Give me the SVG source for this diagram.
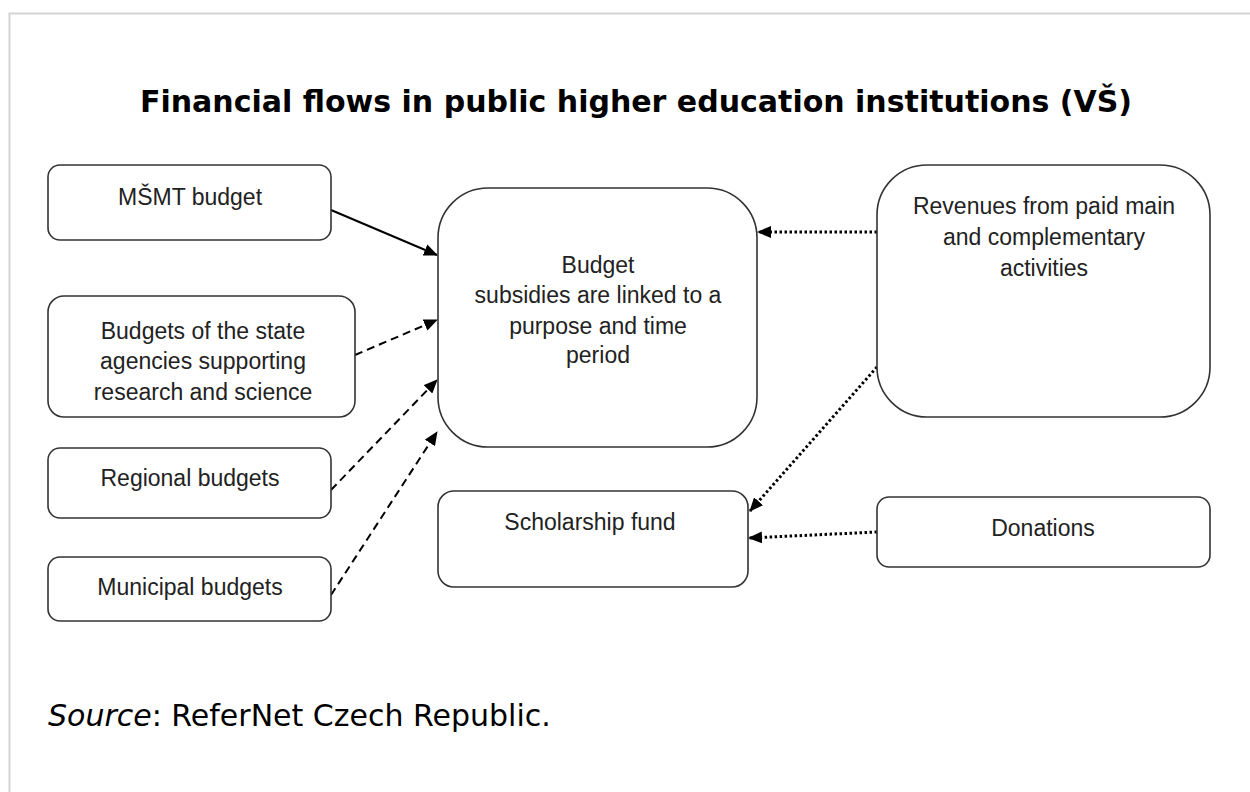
<svg xmlns="http://www.w3.org/2000/svg" width="1250" height="792" viewBox="0 0 1250 792">
<style>
.box{fill:#fff;stroke:#333;stroke-width:1.6}
.t{font-family:"Liberation Sans","Noto Sans",sans-serif;font-size:23px;fill:#222;text-anchor:middle}
.c{fill:none;stroke:#000;stroke-width:2}
.dash{stroke-dasharray:8 5}
.dot{stroke-dasharray:2.5 2.5;stroke-width:3}
</style>
<defs>
<marker id="ah" markerWidth="14" markerHeight="12" refX="13" refY="6" orient="auto" markerUnits="userSpaceOnUse">
<path d="M0,0 L14,6 L0,12 Z" fill="#000"/>
</marker>
</defs>
<rect x="0" y="0" width="1250" height="792" fill="#fff"/>
<path d="M9.5,792 V13.5 H1250" fill="none" stroke="#d3d3d3" stroke-width="2"/>
<text x="636" y="112" font-family="DejaVu Sans,sans-serif" font-weight="bold" font-size="30" text-anchor="middle" fill="#000">Financial flows in public higher education institutions (VŠ)</text>

<g id="connectors">
<line class="c" x1="331" y1="210" x2="437" y2="255" marker-end="url(#ah)"/>
<line class="c dash" x1="355" y1="355" x2="437" y2="320" marker-end="url(#ah)"/>
<line class="c dash" x1="331" y1="490" x2="437" y2="380" marker-end="url(#ah)"/>
<line class="c dash" x1="331" y1="595" x2="437" y2="432" marker-end="url(#ah)"/>
<line class="c dot" x1="877" y1="232" x2="758" y2="232" marker-end="url(#ah)"/>
<line class="c dot" x1="877" y1="367" x2="750" y2="511" marker-end="url(#ah)"/>
<line class="c dot" x1="877" y1="532" x2="749" y2="538" marker-end="url(#ah)"/>
</g>

<g id="msmt">
<rect class="box" x="48" y="165" width="283" height="75" rx="12"/>
<text class="t" x="190" y="205">MŠMT budget</text>
</g>
<g id="agencies">
<rect class="box" x="48" y="296" width="307" height="121" rx="16"/>
<text class="t" x="203" y="339">Budgets of the state</text>
<text class="t" x="203" y="369">agencies supporting</text>
<text class="t" x="203" y="400">research and science</text>
</g>
<g id="regional">
<rect class="box" x="48" y="448" width="283" height="70" rx="12"/>
<text class="t" x="190" y="486">Regional budgets</text>
</g>
<g id="municipal">
<rect class="box" x="48" y="557" width="283" height="64" rx="12"/>
<text class="t" x="190" y="595">Municipal budgets</text>
</g>
<g id="center">
<rect class="box" x="438" y="188" width="319" height="259" rx="50"/>
<text class="t" x="598" y="273">Budget</text>
<text class="t" x="598" y="303">subsidies are linked to a</text>
<text class="t" x="598" y="334">purpose and time</text>
<text class="t" x="598" y="363">period</text>
</g>
<g id="revenues">
<rect class="box" x="877" y="165" width="333" height="252" rx="50"/>
<text class="t" x="1044" y="214">Revenues from paid main</text>
<text class="t" x="1044" y="245">and complementary</text>
<text class="t" x="1044" y="276">activities</text>
</g>
<g id="scholarship">
<rect class="box" x="438" y="491" width="310" height="96" rx="16"/>
<text class="t" x="590" y="530">Scholarship fund</text>
</g>
<g id="donations">
<rect class="box" x="877" y="497" width="333" height="70" rx="12"/>
<text class="t" x="1043" y="536">Donations</text>
</g>

<text x="48" y="726" font-family="DejaVu Sans,sans-serif" font-size="30" fill="#000"><tspan font-style="italic">Source</tspan>: ReferNet Czech Republic.</text>
</svg>
